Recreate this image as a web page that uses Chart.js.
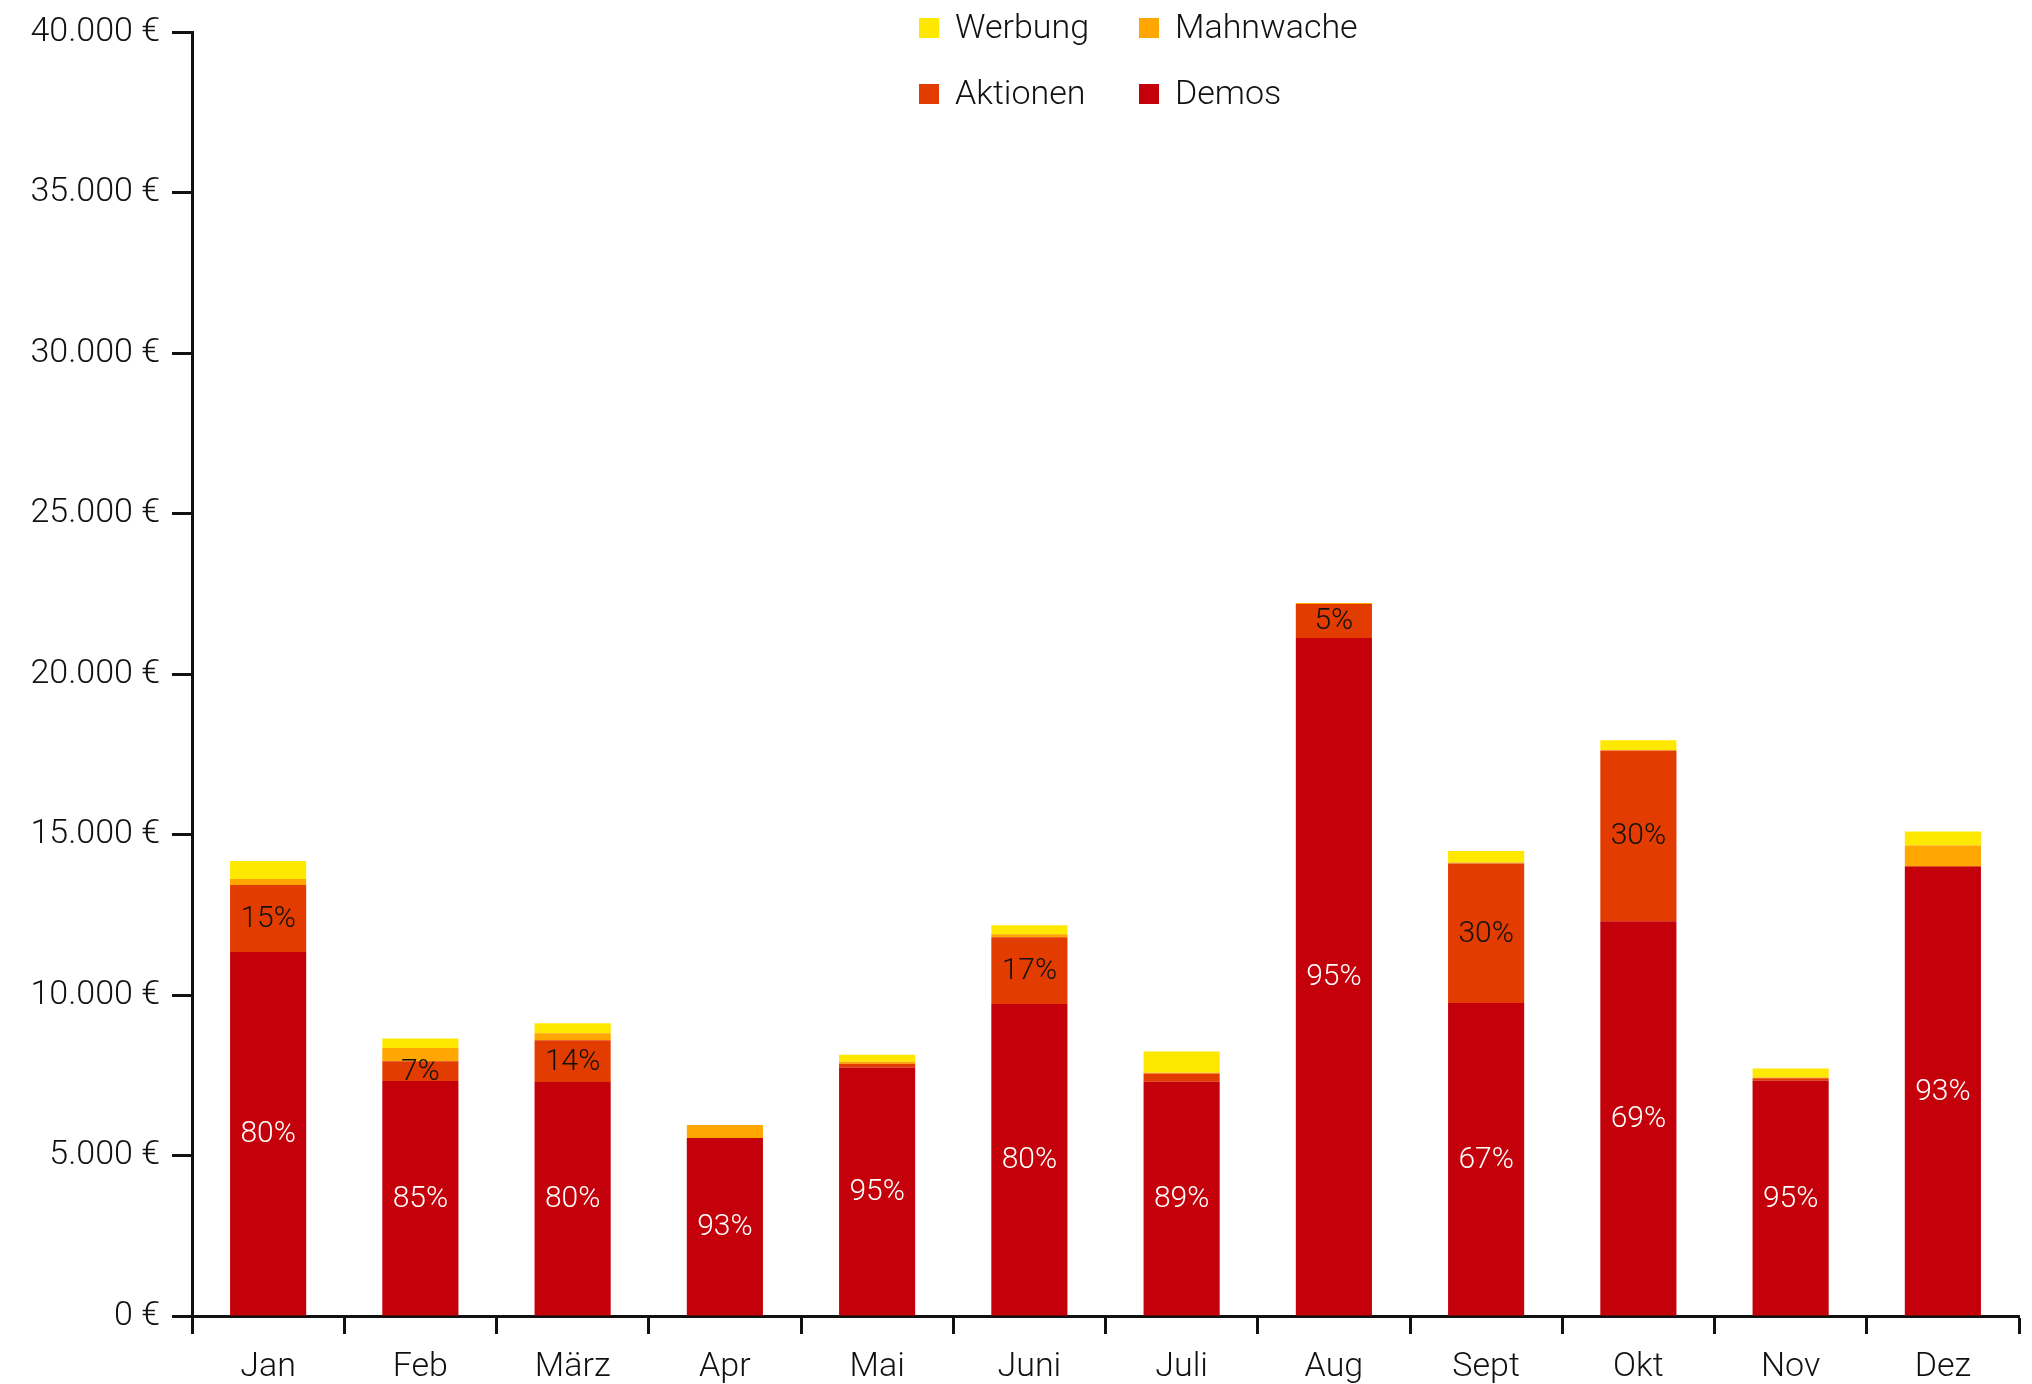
<!DOCTYPE html>
<html lang="de">
<head>
<meta charset="utf-8">
<title>Ausgaben pro Monat</title>
<script src="https://cdn.jsdelivr.net/npm/chart.js@4.4.1/dist/chart.umd.min.js"></script>
<style>
  html, body { margin: 0; padding: 0; background: #fff; }
  #wrap { width: 2032px; height: 1384px; }
</style>
</head>
<body>
<div id="wrap"><canvas id="kostenChart" width="2032" height="1384"></canvas></div>
<script>
// Ausgaben je Monat in Euro, gestapelt nach Bereich
const months = ['Jan', 'Feb', 'März', 'Apr', 'Mai', 'Juni', 'Juli', 'Aug', 'Sept', 'Okt', 'Nov', 'Dez'];
const demos = [11340, 7320, 7290, 5550, 7740, 9720, 7300, 21130, 9750, 12300, 7330, 14000];
const aktionen = [2090, 620, 1300, 0, 120, 2080, 260, 1060, 4350, 5320, 80, 20];
const mahnwache = [190, 410, 220, 400, 60, 100, 20, 30, 30, 10, 20, 640];
const werbung = [560, 300, 310, 0, 220, 280, 660, 0, 360, 310, 280, 440];
const yMax = 40000;
const yStep = 5000;

const fontFamily = 'Roboto, "Liberation Sans", sans-serif';
const ink = '#111';

const totals = months.map((m, i) => demos[i] + aktionen[i] + mahnwache[i] + werbung[i]);

function euro(value) {
    return String(value).replace(/\B(?=(\d{3})+(?!\d))/g, '.') + ' €';
}

// Prozentanteil mittig in den Balkenabschnitt schreiben
const percentLabels = {
    id: 'percentLabels',
    afterDatasetsDraw(chart) {
        const ctx = chart.ctx;
        ctx.save();
        ctx.font = '300 30px ' + fontFamily;
        ctx.textAlign = 'center';
        ctx.textBaseline = 'middle';
        chart.data.datasets.forEach((ds, i) => {
            if (!ds.percentColor) return;
            chart.getDatasetMeta(i).data.forEach((bar, j) => {
                const pct = Math.round(ds.data[j] / totals[j] * 100);
                if (pct < 5) return;
                ctx.fillStyle = ds.percentColor;
                ctx.fillText(pct + '%', bar.x, (bar.y + bar.base) / 2 + 1);
            });
        });
        ctx.restore();
    }
};

// Legende in zwei Spalten oben in der Mitte
const legendBox = {
    id: 'legendBox',
    afterDraw(chart) {
        const ctx = chart.ctx;
        ctx.save();
        ctx.font = '300 34px ' + fontFamily;
        ctx.textBaseline = 'middle';
        chart.data.datasets.slice().reverse().forEach((ds, i) => {
            const x = 919 + (i % 2) * 220;
            const y = 28 + Math.floor(i / 2) * 66;
            ctx.fillStyle = ds.backgroundColor;
            ctx.fillRect(x, y - 10, 20, 20);
            ctx.fillStyle = ink;
            ctx.fillText(ds.label, x + 36, y + 1);
        });
        ctx.restore();
    }
};

new Chart(document.getElementById('kostenChart'), {
    type: 'bar',
    data: {
        labels: months,
        datasets: [
            { label: 'Demos', data: demos, backgroundColor: '#c4000b', percentColor: '#fff' },
            { label: 'Aktionen', data: aktionen, backgroundColor: '#e33c00', percentColor: ink },
            { label: 'Mahnwache', data: mahnwache, backgroundColor: '#ffa600' },
            { label: 'Werbung', data: werbung, backgroundColor: '#ffe800' }
        ]
    },
    options: {
        responsive: false,
        animation: false,
        devicePixelRatio: 1,
        barPercentage: 0.5,
        categoryPercentage: 1,
        layout: { padding: { top: 32, right: 13, left: 0, bottom: 0 } },
        plugins: {
            legend: { display: false },
            tooltip: { enabled: false }
        },
        scales: {
            x: {
                stacked: true,
                afterFit(scale) { scale.height = 68; },
                grid: {
                    drawOnChartArea: false,
                    tickLength: 18,
                    tickWidth: 3,
                    tickColor: ink,
                    color: ink
                },
                border: { color: ink, width: 3 },
                ticks: {
                    color: ink,
                    padding: 13,
                    font: { family: fontFamily, size: 34, weight: '300' }
                }
            },
            y: {
                stacked: true,
                min: 0,
                max: yMax,
                afterFit(scale) { scale.width = 192; },
                grid: {
                    drawOnChartArea: false,
                    tickLength: 20,
                    tickWidth: 3,
                    tickColor: ink,
                    color: ink
                },
                border: { color: ink, width: 3 },
                ticks: {
                    stepSize: yStep,
                    color: ink,
                    padding: 12,
                    font: { family: fontFamily, size: 34, weight: '300' },
                    callback: value => euro(value)
                }
            }
        }
    },
    plugins: [percentLabels, legendBox]
});
</script>
</body>
</html>
